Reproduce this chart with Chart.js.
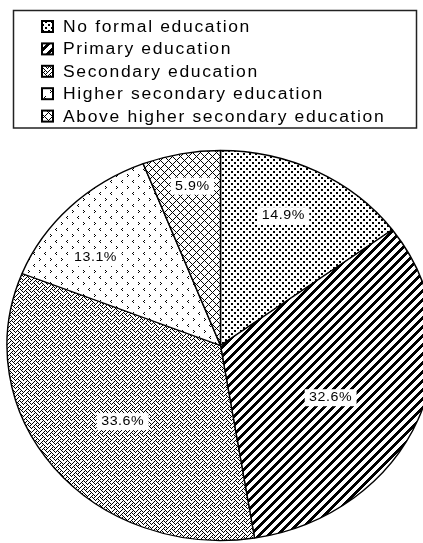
<!DOCTYPE html>
<html>
<head>
<meta charset="utf-8">
<title>Education level</title>
<script src="https://cdn.jsdelivr.net/npm/chart.js@4.4.1/dist/chart.umd.min.js"></script>
<style>
  html, body { margin: 0; padding: 0; background: #fff; }
  canvas { display: block; }
</style>
</head>
<body>
<canvas id="pieChart" width="423" height="543"></canvas>
<script>
const categories = [
  "No formal education",
  "Primary education",
  "Secondary education",
  "Higher secondary education",
  "Above higher secondary education",
];
const shares = [14.9, 32.6, 33.6, 13.1, 5.9];

// where each percentage sits: fraction of radius, and a small turn (degrees)
const labelRadius = [0.73, 0.58, 0.6, 0.74, 0.83];
const labelTurn = [-3, 5, -1.5, -7.5, 1.5];

const FONT = '"Liberation Sans", Arial, sans-serif';
const STRETCH = 1.095; // the original picture is a little wider than tall

const canvas = document.getElementById("pieChart");
const ctx = canvas.getContext("2d");

// small black & white tiles, like the old print patterns
function makePattern(w, h, isInk) {
  const c = document.createElement("canvas");
  c.width = w;
  c.height = h;
  const g = c.getContext("2d");
  g.fillStyle = "#fff";
  g.fillRect(0, 0, w, h);
  g.fillStyle = "#000";
  for (let y = 0; y < h; y++) {
    for (let x = 0; x < w; x++) {
      if (isInk(x, y)) g.fillRect(x, y, 1, 1);
    }
  }
  return ctx.createPattern(c, "repeat");
}

const weaveBits = [0x11, 0x2a, 0x44, 0xa2, 0x11, 0x28, 0x44, 0x8a];
const ltMark = [[1, 0], [0, 1], [1, 2]];
const gtMark = [[6, 6], [7, 7], [6, 8]];
const hit = (marks, x, y) => marks.some((p) => p[0] === x && p[1] === y);

const patterns = [
  makePattern(6, 6, (x, y) => (x < 2 && y < 2) || (x >= 3 && x < 5 && y >= 3 && y < 5)),
  makePattern(9, 9, (x, y) => (x + y) % 9 < 4),
  makePattern(8, 8, (x, y) => (weaveBits[y] >> (7 - x)) & 1),
  makePattern(11, 12, (x, y) => hit(ltMark, x, y) || hit(gtMark, x, y)),
  makePattern(8, 8, (x, y) => (x + y) % 8 === 0 || (x - y + 8) % 8 === 0),
];

// stretch the pie sideways and put the percentages on it
const stretchedPie = {
  id: "stretchedPie",
  beforeDatasetsDraw(chart) {
    const c = chart.ctx;
    const cx = (chart.chartArea.left + chart.chartArea.right) / 2;
    c.save();
    c.translate(cx, 0);
    c.scale(STRETCH, 1);
    c.translate(-cx, 0);
    // keep the tiles pixel-sharp inside the stretched pie
    const undo = new DOMMatrix().translate(cx, 0).scale(1 / STRETCH, 1).translate(-cx, 0);
    patterns.forEach((p) => p.setTransform(undo));
  },
  afterDatasetsDraw(chart) {
    const c = chart.ctx;
    const arcs = chart.getDatasetMeta(0).data;
    c.font = `13px ${FONT}`;
    c.letterSpacing = "0.5px";
    c.textAlign = "center";
    c.textBaseline = "middle";
    arcs.forEach((arc, i) => {
      const mid = (arc.startAngle + arc.endAngle) / 2 + (labelTurn[i] * Math.PI) / 180;
      const r = arc.outerRadius * labelRadius[i];
      const x = arc.x + Math.cos(mid) * r;
      const y = arc.y + Math.sin(mid) * r;
      const text = shares[i].toFixed(1) + "%";
      const w = c.measureText(text).width;
      c.fillStyle = "#fff";
      c.fillRect(x - w / 2 - 4, y - 8, w + 8, 17);
      c.fillStyle = "#000";
      c.fillText(text, x, y + 0.5);
    });
    c.restore();
    patterns.forEach((p) => p.setTransform(new DOMMatrix()));
  },
};

// boxed legend at the top, one entry per row
const boxLegend = {
  id: "boxLegend",
  afterDraw(chart) {
    const c = chart.ctx;
    c.save();
    c.strokeStyle = "#222";
    c.lineWidth = 1.5;
    c.strokeRect(13.5, 10.5, 403, 117.5);
    c.font = `16px ${FONT}`;
    c.letterSpacing = "1.5px";
    c.textBaseline = "middle";
    categories.forEach((name, i) => {
      const y = 27 + i * 22.4;
      c.fillStyle = patterns[i];
      c.fillRect(42, y - 6, 11, 11);
      c.strokeStyle = "#000";
      c.lineWidth = 2;
      c.strokeRect(42, y - 6, 11, 11);
      c.save();
      c.translate(63, y + 0.5);
      c.scale(STRETCH, 1);
      c.fillStyle = "#000";
      c.fillText(name, 0, 0);
      c.restore();
    });
    c.restore();
  },
};

new Chart(ctx, {
  type: "pie",
  data: {
    labels: categories,
    datasets: [
      {
        data: shares,
        backgroundColor: patterns,
        borderColor: "#000",
        borderWidth: 1.3,
        clip: false,
      },
    ],
  },
  options: {
    responsive: false,
    animation: false,
    radius: 195,
    layout: { padding: { top: 148, left: 18, right: 0, bottom: 0 } },
    plugins: {
      legend: { display: false },
      tooltip: { enabled: false },
    },
  },
  plugins: [stretchedPie, boxLegend],
});
</script>
</body>
</html>
